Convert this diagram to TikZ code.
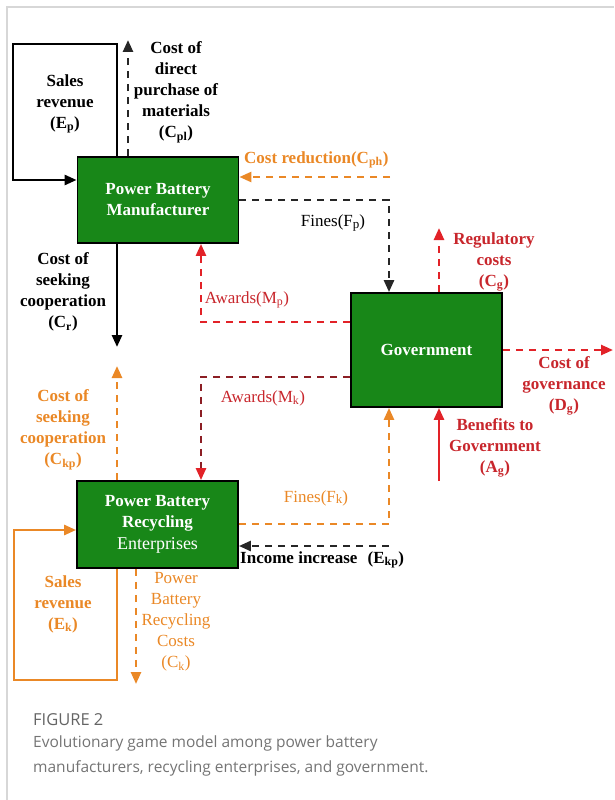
\documentclass[tikz,border=0pt]{standalone}
\usepackage{fontspec}
\setmainfont{Liberation Serif}
\newfontfamily\capfont{Open Sans}
\usetikzlibrary{arrows.meta,calc}
\definecolor{boxgreen}{RGB}{24,135,24}
\definecolor{orng}{RGB}{234,136,38}
\definecolor{redtxt}{RGB}{200,38,44}
\definecolor{redln}{RGB}{226,34,40}
\definecolor{dred}{RGB}{140,30,36}
\definecolor{capgray}{RGB}{100,100,100}
\definecolor{framegray}{RGB}{215,215,215}
\begin{document}
\begin{tikzpicture}[x=1pt,y=-1pt,
  tip/.style={-{Triangle[length=12pt,width=10pt]}},
  box/.style={draw=black,line width=1.8pt,fill=boxgreen,text=white,font=\fontsize{17}{21}\selectfont\bfseries,align=center,inner sep=0pt},
  solidblk/.style={draw=black,line width=2.6pt,tip},
  dashblk/.style={draw=black!85,line width=2.5pt,dash pattern=on 7pt off 6pt,tip},
  dashor/.style={draw=orng,line width=2.5pt,dash pattern=on 7pt off 6pt,tip},
  solidor/.style={draw=orng,line width=2.6pt,tip},
  dashred/.style={draw=redln,line width=2.5pt,dash pattern=on 7pt off 6pt,tip},
  solidred/.style={draw=redln,line width=2.6pt,tip},
  lbl/.style={font=\fontsize{17}{21}\selectfont\bfseries,align=center,inner sep=0pt},
  lblr/.style={font=\fontsize{17}{21}\selectfont,align=center,inner sep=0pt}
]
\useasboundingbox (0,0) rectangle (614,800);
% frame
\draw[framegray,line width=1.2pt] (7,800) -- (7,7) -- (614,7);

% boxes
\node[box,minimum width=161pt,minimum height=86pt] (mfr) at (158,200) {Power Battery\\Manufacturer};
\node[box,minimum width=151pt,minimum height=114pt] (gov) at (426.5,350) {Government};
\node[box,minimum width=161pt,minimum height=87pt] (rec) at (157.5,524.5) {Power Battery\\Recycling\\[1pt]{\mdseries\fontsize{18}{21}\selectfont Enterprises}};

% helper coordinates
\coordinate (epTL) at (13,44);
\coordinate (epY) at (0,180);
\coordinate (cplX) at (128,0);
\coordinate (cplEnd) at (128,40);
\coordinate (cphStart) at (390,177);
\coordinate (fpX) at (389,0);
\coordinate (cgX) at (439,0);
\coordinate (cgEnd) at (439,228);
\coordinate (mpY) at (0,322);
\coordinate (mkY) at (0,377);
\coordinate (awX) at (201,0);
\coordinate (dgEnd) at (613,350);
\coordinate (agStart) at (439,481);
\coordinate (crX) at (117,0);
\coordinate (crEnd) at (117,347);
\coordinate (ckpEnd) at (117,366);
\coordinate (fkY) at (0,524);
\coordinate (ekpStart) at (389,546);
\coordinate (ekBL) at (14,680);
\coordinate (ekY) at (0,530);
\coordinate (ckX) at (136,0);
\coordinate (ckEnd) at (136,684);

% connectors
\draw[solidblk] (mfr.north -| crX) |- (epTL) |- (mfr.west |- epY);
\draw[dashblk] (mfr.north -| cplX) -- (cplEnd);
\draw[dashor] (cphStart) -- (mfr.east |- cphStart);
\draw[dashblk] (mfr.east) -| (gov.north -| fpX);
\draw[dashred] (gov.north -| cgX) -- (cgEnd);
\draw[dashred] (gov.west |- mpY) -| (mfr.south -| awX);
\draw[draw=dred,line width=2.5pt,dash pattern=on 7pt off 6pt,-{Triangle[length=12pt,width=10pt,color=redln]}] (gov.west |- mkY) -| (rec.north -| awX);
\draw[dashred] (gov.east) -- (dgEnd);
\draw[solidred] (agStart) -- (gov.south -| agStart);
\draw[solidblk] (mfr.south -| crX) -- (crEnd);
\draw[dashor] (rec.north -| crX) -- (ckpEnd);
\draw[dashor] (rec.east |- fkY) -| (gov.south -| fpX);
\draw[dashblk] (ekpStart) -- (rec.east |- ekpStart);
\draw[solidor] (rec.south -| crX) |- (ekBL) |- (rec.west |- ekY);
\draw[dashor] (rec.south -| ckX) -- (ckEnd);

% labels
\node[lbl] (lEp) at (65,104) {Sales\\revenue\\(E\textsubscript{p})};
\node[lbl] (lCpl) at (176,92) {Cost of\\direct\\purchase of\\materials\\(C\textsubscript{pl})};
\node[lbl,text=orng,anchor=west] (lCph) at (244,160) {Cost reduction(C\textsubscript{ph})};
\node[lblr] (lFp) at (333,223) {Fines(F{\fontsize{13}{15}\selectfont\raisebox{-1.5pt}{p}})};
\node[lbl,text=redtxt] (lCg) at (494,262) {Regulatory\\costs\\(C\textsubscript{g})};
\node[lblr,text=redtxt] (lMp) at (247,300) {Awards(M\textsubscript{p})};
\node[lblr,text=redtxt] (lMk) at (263,398) {Awards(M\textsubscript{k})};
\node[lbl,text=redtxt] (lDg) at (564,386) {Cost of\\governance\\(D\textsubscript{g})};
\node[lbl,text=redtxt] (lAg) at (495,448) {Benefits to\\Government\\(A\textsubscript{g})};
\node[lbl] (lCr) at (63,292) {Cost of\\seeking\\cooperation\\(C\textsubscript{r})};
\node[lbl,text=orng] (lCkp) at (63,430) {Cost of\\seeking\\cooperation\\(C\textsubscript{kp})};
\node[lblr,text=orng] (lFk) at (316,498) {Fines(F{\fontsize{13}{15}\selectfont\raisebox{-1.5pt}{k}})};
\node[lbl,anchor=west] (lEkp) at (240,560) {Income increase\hspace{0.6em}(E\textsubscript{kp})};
\node[lbl,text=orng] (lEk) at (63,604) {Sales\\revenue\\(E\textsubscript{k})};
\node[lblr,text=orng] (lCk) at (176,622) {Power\\Battery\\Recycling\\Costs\\(C\textsubscript{k})};

% caption
\node[anchor=west,inner sep=0pt,text=capgray,font=\capfont\fontsize{16.5}{20}\selectfont] (capt) at (33,720) {FIGURE 2};
\node[anchor=north west,inner sep=0pt,text=capgray!90,align=left,font=\capfont\fontsize{15.5}{25}\selectfont] (capb) at (33,736) {Evolutionary game model among power battery\\manufacturers, recycling enterprises, and government.};
\end{tikzpicture}
\end{document}
